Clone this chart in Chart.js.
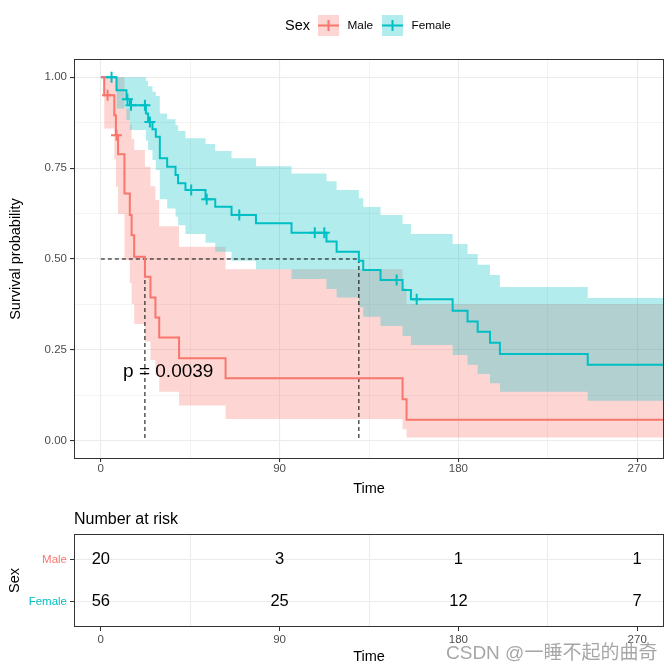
<!DOCTYPE html>
<html>
<head>
<meta charset="utf-8">
<script src="https://cdn.jsdelivr.net/npm/chart.js@4.4.1/dist/chart.umd.min.js"></script>
<style>
body { margin: 0; background: #fff; width: 672px; height: 672px; position: relative; overflow: hidden; }
#main { position: absolute; left: 0; top: 0; }
#risk { position: absolute; left: 0; top: 500px; }
</style>
</head>
<body>
<canvas id="main" width="672" height="500"></canvas>
<canvas id="risk" width="672" height="172"></canvas>
<script>
// survival curves (time in days)
const maleTime  = [0, 1.7, 6.8, 7.6, 8.7, 11.9, 14.6, 15.5, 16.8, 22.2, 25.0, 27.5, 29.4, 39.4, 62.8, 151.9, 153.9, 290];
const maleSurv  = [1.0, 0.95, 0.895, 0.84, 0.788, 0.68, 0.621, 0.565, 0.506, 0.451, 0.394, 0.339, 0.284, 0.227, 0.172, 0.1145, 0.0577, 0.0577];
const maleUpper = [1.0, 1.0, 1.0, 1.0, 1.0, 0.914, 0.87, 0.83, 0.80, 0.754, 0.70, 0.662, 0.59, 0.534, 0.4716, 0.42, 0.376, 0.376];
const maleLower = [1.0, 0.859, 0.774, 0.699, 0.624, 0.497, 0.433, 0.376, 0.321, 0.273, 0.2225, 0.18, 0.135, 0.097, 0.060, 0.032, 0.009, 0.009];
const maleCensor = [3.4, 7.9];

const femTime  = [0, 7.9, 12.9, 14.6, 22.7, 23.8, 26.0, 27.7, 29.7, 33.4, 37.6, 38.9, 42.6, 52.7, 57.6, 65.8, 78.1, 96.0, 113.6, 118.7, 129.9, 132.1, 140.8, 151.9, 156.1, 177.1, 184.6, 189.7, 195.9, 200.9, 245.1, 290];
const femSurv  = [1.0, 0.964, 0.939, 0.923, 0.900, 0.877, 0.857, 0.836, 0.777, 0.754, 0.731, 0.708, 0.690, 0.664, 0.644, 0.621, 0.598, 0.572, 0.548, 0.520, 0.495, 0.470, 0.442, 0.415, 0.389, 0.358, 0.328, 0.300, 0.270, 0.239, 0.209, 0.209];
const femUpper = [1.0, 1.0, 1.0, 1.0, 0.99, 0.975, 0.96, 0.948, 0.900, 0.884, 0.868, 0.852, 0.832, 0.816, 0.797, 0.777, 0.755, 0.735, 0.714, 0.690, 0.667, 0.643, 0.621, 0.596, 0.569, 0.541, 0.514, 0.484, 0.456, 0.423, 0.393, 0.393];
const femLower = [1.0, 0.914, 0.882, 0.855, 0.825, 0.80, 0.772, 0.7445, 0.664, 0.639, 0.616, 0.593, 0.569, 0.545, 0.52, 0.495, 0.4716, 0.445, 0.4176, 0.394, 0.367, 0.3415, 0.316, 0.2885, 0.2637, 0.236, 0.209, 0.184, 0.158, 0.1346, 0.11, 0.11];
const femCensor = [5.4, 13.4, 15.2, 22.2, 24.7, 45.5, 53.3, 69.7, 107.7, 112.5, 148.9, 159.0];

const groups = ['Male', 'Female'];
const xBreaks = [0, 90, 180, 270];
const yBreaks = [0, 0.25, 0.5, 0.75, 1];
const riskTimes = [0, 90, 180, 270];
const riskMale = [20, 3, 1, 1];
const riskFemale = [56, 25, 12, 7];
const pvalText = 'p = 0.0039';
const pvalPos = [11.2, 0.19];

const MALE = '#F8766D';
const FEMALE = '#00BFC4';
const MALE_FILL = 'rgba(248,118,109,0.3)';
const FEMALE_FILL = 'rgba(0,191,196,0.3)';
const FONT = '"Liberation Sans", Arial, sans-serif';

Chart.defaults.font.family = FONT;
Chart.defaults.animation = false;

function toPts(t, v) {
    return t.map(function(x, i) { return {x: x, y: v[i]}; });
}
function survAt(t, s, x) {
    var v = s[0];
    for (var i = 0; i < t.length; i++) { if (t[i] <= x) v = s[i]; }
    return v;
}
function medianTime(t, s) {
    for (var i = 0; i < t.length; i++) { if (s[i] <= 0.5) return t[i]; }
    return null;
}
function withMinor(br) {
    var out = [];
    br.forEach(function(b, i) {
        out.push(b);
        if (i < br.length - 1) out.push((b + br[i + 1]) / 2);
    });
    return out;
}
function censorPts(t, s, times) {
    return times.map(function(x) { return {x: x, y: survAt(t, s, x)}; });
}

var xTicks = withMinor(xBreaks);
var yTicks = withMinor(yBreaks);
var medM = medianTime(maleTime, maleSurv);
var medF = medianTime(femTime, femSurv);
var medMax = Math.max(medM, medF);

// pink band is painted first (higher order), teal on top of it
function band(t, v, fill, color, order) {
    return {data: toPts(t, v), stepped: true, borderWidth: 0, borderColor: 'rgba(0,0,0,0)',
            pointRadius: 0, fill: fill, backgroundColor: color, order: order};
}
function curve(t, v, color) {
    return {data: toPts(t, v), stepped: true, borderWidth: 2, borderColor: color,
            pointRadius: 0, fill: false, order: 2};
}
function censors(pts, color) {
    return {data: pts, showLine: false, pointStyle: 'cross', pointRadius: 5.5,
            pointBorderWidth: 2, pointBorderColor: color, borderColor: color, order: 1};
}
function dashed(pts) {
    return {data: pts, borderColor: '#000', borderWidth: 1, borderDash: [4, 3],
            pointRadius: 0, fill: false, order: 3};
}

var mainDeco = {
    id: 'mainDeco',
    afterDatasetsDraw: function(chart) {
        var ctx = chart.ctx, xs = chart.scales.x, ys = chart.scales.y;
        ctx.save();
        ctx.font = '19px ' + FONT;
        ctx.fillStyle = '#000';
        ctx.textAlign = 'left';
        ctx.textBaseline = 'middle';
        ctx.fillText(pvalText, xs.getPixelForValue(pvalPos[0]), ys.getPixelForValue(pvalPos[1]));
        ctx.restore();
    },
    afterDraw: function(chart) {
        var ctx = chart.ctx, a = chart.chartArea;
        ctx.save();
        ctx.strokeStyle = '#333333';
        ctx.lineWidth = 1;
        ctx.strokeRect(a.left + 0.5, a.top + 0.5, a.right - a.left - 1, a.bottom - a.top - 1);

        // legend
        ctx.textBaseline = 'middle';
        ctx.fillStyle = '#000';
        ctx.font = '14.5px ' + FONT;
        ctx.fillText('Sex', 285, 26);
        var keys = [[318, MALE, MALE_FILL, 347.5], [382, FEMALE, FEMALE_FILL, 411.5]];
        ctx.font = '11.8px ' + FONT;
        keys.forEach(function(k, i) {
            ctx.fillStyle = k[2];
            ctx.fillRect(k[0], 15, 21, 21);
            ctx.strokeStyle = k[1];
            ctx.lineWidth = 2;
            ctx.beginPath();
            ctx.moveTo(k[0], 25.5); ctx.lineTo(k[0] + 21, 25.5);
            ctx.moveTo(k[0] + 10.5, 20); ctx.lineTo(k[0] + 10.5, 31);
            ctx.stroke();
            ctx.fillStyle = '#000';
            ctx.fillText(groups[i], k[3], 26);
        });
        ctx.restore();
    }
};

new Chart(document.getElementById('main'), {
    type: 'line',
    data: {
        datasets: [
            band(maleTime, maleUpper, '+1', MALE_FILL, 11),
            band(maleTime, maleLower, false, MALE_FILL, 11),
            band(femTime, femUpper, '+1', FEMALE_FILL, 10),
            band(femTime, femLower, false, FEMALE_FILL, 10),
            curve(maleTime, maleSurv, MALE),
            curve(femTime, femSurv, FEMALE),
            censors(censorPts(maleTime, maleSurv, maleCensor), MALE),
            censors(censorPts(femTime, femSurv, femCensor), FEMALE),
            dashed([{x: 0, y: 0.5}, {x: medMax, y: 0.5}]),
            dashed([{x: medM, y: 0.5}, {x: medM, y: 0}]),
            dashed([{x: medF, y: 0.5}, {x: medF, y: 0}])
        ]
    },
    options: {
        responsive: false,
        layout: {padding: {top: 59, right: 8, left: 0, bottom: 0}},
        plugins: {legend: {display: false}, tooltip: {enabled: false}},
        scales: {
            x: {
                type: 'linear', min: -13.5, max: 283.5,
                afterBuildTicks: function(axis) { axis.ticks = xTicks.map(function(v) { return {value: v}; }); },
                afterFit: function(axis) { axis.height = 41; },
                ticks: {
                    color: '#4D4D4D', font: {size: 11.5}, padding: 0, maxRotation: 0, autoSkip: false,
                    callback: function(v) { return xBreaks.indexOf(v) >= 0 ? String(v) : ''; }
                },
                grid: {
                    color: '#EBEBEB',
                    lineWidth: function(c) { return xBreaks.indexOf(c.tick.value) >= 0 ? 1.1 : 0.6; },
                    tickColor: function(c) { return xBreaks.indexOf(c.tick.value) >= 0 ? '#333333' : 'rgba(0,0,0,0)'; },
                    tickLength: 3
                },
                border: {display: false},
                title: {display: true, text: 'Time', color: '#000', font: {size: 14.5}, padding: {top: 0, bottom: 2}}
            },
            y: {
                type: 'linear', min: -0.05, max: 1.05,
                afterBuildTicks: function(axis) { axis.ticks = yTicks.map(function(v) { return {value: v}; }); },
                afterFit: function(axis) { axis.width = 74; },
                ticks: {
                    color: '#4D4D4D', font: {size: 11.5}, padding: 3, autoSkip: false,
                    callback: function(v) { return yBreaks.indexOf(v) >= 0 ? v.toFixed(2) : ''; }
                },
                grid: {
                    color: '#EBEBEB',
                    lineWidth: function(c) { return yBreaks.indexOf(c.tick.value) >= 0 ? 1.1 : 0.6; },
                    tickColor: function(c) { return yBreaks.indexOf(c.tick.value) >= 0 ? '#333333' : 'rgba(0,0,0,0)'; },
                    tickLength: 4
                },
                border: {display: false},
                title: {display: true, text: 'Survival probability', color: '#000', font: {size: 14.5}, padding: {top: 7, bottom: 0}}
            }
        }
    },
    plugins: [mainDeco]
});

// risk table
var xMinor = xTicks.filter(function(v) { return xBreaks.indexOf(v) < 0; });
var riskDeco = {
    id: 'riskDeco',
    afterDraw: function(chart) {
        var ctx = chart.ctx, a = chart.chartArea, xs = chart.scales.x, ys = chart.scales.y;
        ctx.save();
        ctx.strokeStyle = '#333333';
        ctx.lineWidth = 1;
        ctx.strokeRect(a.left + 0.5, a.top + 0.5, a.right - a.left - 1, a.bottom - a.top - 1);

        ctx.fillStyle = '#000';
        ctx.textBaseline = 'middle';
        ctx.textAlign = 'left';
        ctx.font = '16px ' + FONT;
        ctx.fillText('Number at risk', 74, 19.5);

        ctx.textAlign = 'center';
        ctx.font = '16.5px ' + FONT;
        riskTimes.forEach(function(t, i) {
            var x = xs.getPixelForValue(t);
            ctx.fillText(String(riskMale[i]), x, ys.getPixelForValue(2));
            ctx.fillText(String(riskFemale[i]), x, ys.getPixelForValue(1));
        });

        ctx.textAlign = 'left';
        ctx.font = '19px "Liberation Sans", "Noto Sans CJK SC", sans-serif';
        ctx.fillStyle = 'rgba(150,150,150,0.85)';
        ctx.fillText('CSDN @一睡不起的曲奇', 446, 154);
        ctx.restore();
    }
};

new Chart(document.getElementById('risk'), {
    type: 'line',
    data: {datasets: []},
    options: {
        responsive: false,
        layout: {padding: {top: 34, right: 8, left: 0, bottom: 0}},
        plugins: {legend: {display: false}, tooltip: {enabled: false}},
        scales: {
            x: {
                type: 'linear', min: -13.5, max: 283.5,
                afterBuildTicks: function(axis) { axis.ticks = xTicks.map(function(v) { return {value: v}; }); },
                afterFit: function(axis) { axis.height = 45; },
                ticks: {
                    color: '#4D4D4D', font: {size: 11.5}, padding: 2, maxRotation: 0, autoSkip: false,
                    callback: function(v) { return xBreaks.indexOf(v) >= 0 ? String(v) : ''; }
                },
                grid: {
                    color: function(c) { return xMinor.indexOf(c.tick.value) >= 0 ? '#EBEBEB' : 'rgba(0,0,0,0)'; },
                    lineWidth: 1,
                    tickColor: function(c) { return xBreaks.indexOf(c.tick.value) >= 0 ? '#333333' : 'rgba(0,0,0,0)'; },
                    tickLength: 4
                },
                border: {display: false},
                title: {display: true, text: 'Time', color: '#000', font: {size: 14.5}, padding: {top: 0, bottom: 6}}
            },
            y: {
                type: 'linear', min: 0.4, max: 2.6,
                afterBuildTicks: function(axis) { axis.ticks = [{value: 1}, {value: 2}]; },
                afterFit: function(axis) { axis.width = 74; },
                ticks: {
                    font: {size: 11.5}, padding: 3, autoSkip: false,
                    color: function(c) { return c.tick.value === 2 ? MALE : FEMALE; },
                    callback: function(v) { return v === 2 ? groups[0] : groups[1]; }
                },
                grid: {color: '#EBEBEB', lineWidth: 1, tickColor: '#333333', tickLength: 4},
                border: {display: false},
                title: {display: true, text: 'Sex', color: '#000', font: {size: 14.5}, padding: {top: 6, bottom: 0}}
            }
        }
    },
    plugins: [riskDeco]
});
</script>
</body>
</html>
